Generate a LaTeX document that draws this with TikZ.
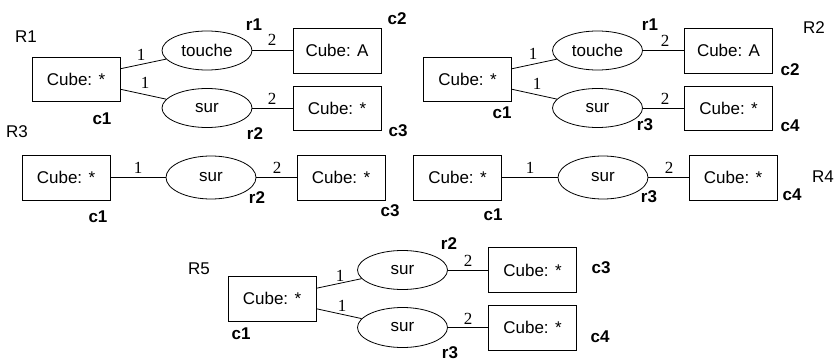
\documentclass[tikz,border=0pt]{standalone}
\usepackage{fontspec}
\setmainfont{Liberation Sans}
\newfontfamily\numfont{Liberation Serif}
\usetikzlibrary{shapes.geometric}
\begin{document}
\begin{tikzpicture}[x=1pt,y=1pt,
  cube/.style={draw,line width=0.8pt,minimum width=88pt,minimum height=44pt,inner sep=0pt,font=\fontsize{17}{20}\selectfont},
  rel/.style={draw,ellipse,line width=0.8pt,minimum width=90pt,minimum height=39pt,inner sep=0pt,font=\fontsize{17}{20}\selectfont},
  card/.style={font=\numfont\fontsize{17}{20}\selectfont,inner sep=0pt},
  tag/.style={font=\bfseries\fontsize{17}{20}\selectfont,inner sep=0pt},
  rname/.style={font=\fontsize{17}{20}\selectfont,inner sep=0pt},
  link/.style={line width=0.8pt}]
\useasboundingbox (0,0) rectangle (837,-361);
% ---------- R1 ----------
\node[cube] (a1) at (76,-79) {Cube: *};
\node[rel] (a2) at (207,-50.5) {touche};
\node[rel] (a3) at (207,-108) {sur};
\node[cube,minimum height=45pt] (a4) at (337,-50.5) {Cube: A};
\node[cube] (a5) at (337,-108) {Cube: *};
\draw[link] (a1.13) -- (a2);
\draw[link] (a1.-13) -- (a3);
\draw[link] (a2) -- (a4);
\draw[link] (a3) -- (a5);
\node[rname] (aR) at (26,-37) {R1};
\node[tag] (ar1) at (254,-25) {r1};
\node[tag] (ac2) at (397,-19) {c2};
\node[tag] (ac1) at (102,-119) {c1};
\node[tag] (ar2) at (255,-134) {r2};
\node[tag] (ac3) at (398,-131) {c3};
\node[card] (an1) at (141,-55) {1};
\node[card] (an2) at (145,-83) {1};
\node[card] (an3) at (272,-40) {2};
\node[card] (an4) at (272,-99) {2};
% ---------- R2 ----------
\node[cube] (b1) at (467.5,-79) {Cube: *};
\node[rel] (b2) at (597.5,-50.5) {touche};
\node[rel] (b3) at (597.5,-108) {sur};
\node[cube,minimum height=45pt] (b4) at (728.5,-50.5) {Cube: A};
\node[cube] (b5) at (728.5,-108) {Cube: *};
\draw[link] (b1.13) -- (b2);
\draw[link] (b1.-13) -- (b3);
\draw[link] (b2) -- (b4);
\draw[link] (b3) -- (b5);
\node[rname] (bR) at (814,-28) {R2};
\node[tag] (br1) at (650,-25) {r1};
\node[tag] (bc2) at (790,-70) {c2};
\node[tag] (bc1) at (502,-113) {c1};
\node[tag] (br3) at (645,-125) {r3};
\node[tag] (bc4) at (790,-126) {c4};
\node[card] (bn1) at (533,-54) {1};
\node[card] (bn2) at (537,-84) {1};
\node[card] (bn3) at (665,-41) {2};
\node[card] (bn4) at (665,-99) {2};
% ---------- R3 ----------
\node[cube,minimum height=45pt] (c1) at (66,-177.5) {Cube: *};
\node[rel,minimum height=43pt] (c2) at (211,-177.5) {sur};
\node[cube,minimum height=45pt] (c3) at (341,-177.5) {Cube: *};
\draw[link] (c1) -- (c2);
\draw[link] (c2) -- (c3);
\node[rname] (cR) at (17,-132) {R3};
\node[card] (cn1) at (138,-168) {1};
\node[card] (cn2) at (277,-168) {2};
\node[tag] (cr2) at (257,-198) {r2};
\node[tag] (cc1) at (98,-217) {c1};
\node[tag] (cc3) at (390,-211) {c3};
% ---------- R4 ----------
\node[cube,minimum height=45pt] (d1) at (457.5,-177.5) {Cube: *};
\node[rel,minimum height=43pt] (d2) at (603,-177.5) {sur};
\node[cube,minimum height=45pt] (d3) at (733,-177.5) {Cube: *};
\draw[link] (d1) -- (d2);
\draw[link] (d2) -- (d3);
\node[rname] (dR) at (823,-177) {R4};
\node[card] (dn1) at (530,-168) {1};
\node[card] (dn2) at (669,-168) {2};
\node[tag] (dr3) at (649,-197) {r3};
\node[tag] (dc4) at (792,-195) {c4};
\node[tag] (dc1) at (493,-215) {c1};
% ---------- R5 ----------
\node[cube,minimum height=45pt] (e1) at (272,-298.5) {Cube: *};
\node[rel] (e2) at (402.5,-270) {sur};
\node[rel,minimum height=40pt] (e3) at (402.5,-327.5) {sur};
\node[cube,minimum height=45pt] (e4) at (532.5,-270) {Cube: *};
\node[cube,minimum height=45pt] (e5) at (532.5,-327.5) {Cube: *};
\draw[link] (e1.13) -- (e2);
\draw[link] (e1.-13) -- (e3);
\draw[link] (e2) -- (e4);
\draw[link] (e3) -- (e5);
\node[rname] (eR) at (199,-269) {R5};
\node[tag] (er2) at (449,-244) {r2};
\node[tag] (ec3) at (601,-268) {c3};
\node[tag] (ec1) at (241,-334) {c1};
\node[tag] (ec4) at (600,-337) {c4};
\node[tag] (er3) at (450,-353) {r3};
\node[card] (en1) at (340,-276) {1};
\node[card] (en2) at (342,-306) {1};
\node[card] (en3) at (468,-261) {2};
\node[card] (en4) at (468,-319) {2};
\end{tikzpicture}
\end{document}
